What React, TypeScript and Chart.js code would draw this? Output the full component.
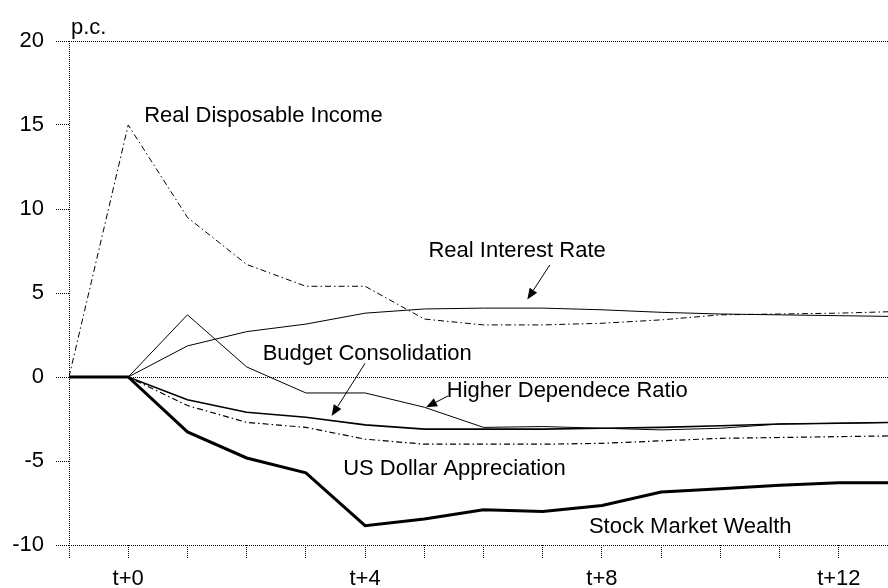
import React, { useEffect, useRef } from "react";
import { Chart, registerables } from "chart.js";

Chart.register(...registerables);

// Quarters relative to the shock: t-1 ... t+13
const periods = [-1, 0, 1, 2, 3, 4, 5, 6, 7, 8, 9, 10, 11, 12, 13];
const xLabelValues = [0, 4, 8, 12];
const xLabelTexts = ["t+0", "t+4", "t+8", "t+12"];
const yTickValues = [-10, -5, 0, 5, 10, 15, 20];

const realDisposableIncome = [0, 15, 9.5, 6.7, 5.4, 5.4, 3.45, 3.1, 3.1, 3.2, 3.4, 3.7, 3.75, 3.8, 3.9];
const realInterestRate = [0, 0, 1.85, 2.7, 3.15, 3.8, 4.05, 4.1, 4.1, 4.0, 3.85, 3.75, 3.7, 3.65, 3.6];
const higherDependenceRatio = [0, 0, 3.7, 0.6, -0.95, -0.95, -1.8, -3.0, -2.95, -3.05, -3.15, -3.05, -2.8, -2.75, -2.7];
const budgetConsolidation = [0, 0, -1.35, -2.1, -2.4, -2.85, -3.1, -3.1, -3.1, -3.05, -3.0, -2.9, -2.8, -2.75, -2.7];
const usDollarAppreciation = [0, 0, -1.7, -2.7, -3.0, -3.7, -4.0, -4.0, -4.0, -3.95, -3.8, -3.65, -3.6, -3.55, -3.5];
const stockMarketWealth = [0, 0, -3.27, -4.82, -5.7, -8.85, -8.45, -7.9, -8.0, -7.65, -6.85, -6.65, -6.45, -6.3, -6.3];

// Text labels placed in data coordinates (x = quarter, y = p.c.)
const labelTexts = [
  "Real Disposable Income",
  "Real Interest Rate",
  "Budget Consolidation",
  "Higher Dependece Ratio",
  "US Dollar Appreciation",
  "Stock Market Wealth",
];
const labelX = [0.27, 5.07, 2.27, 5.38, 3.63, 7.78];
const labelY = [15.2, 7.16, 1.01, -1.21, -5.81, -9.3];

// Arrows: from (x1,y1) to (x2,y2) in data coordinates
const arrowX1 = [7.12, 4.0, 5.4];
const arrowY1 = [6.67, 0.82, -1.13];
const arrowX2 = [6.74, 3.435, 5.03];
const arrowY2 = [4.62, -2.32, -1.8];

const FONT = '"Liberation Sans", Arial, sans-serif';

const pts = (vals: number[]) => periods.map((p, i) => ({ x: p, y: vals[i] }));

const annotationPlugin = {
  id: "annotations",
  afterDatasetsDraw(chart: any) {
    const { ctx, scales, chartArea } = chart;
    const xs = scales.x;
    const ys = scales.y;
    ctx.save();
    ctx.fillStyle = "#000";
    ctx.strokeStyle = "#000";
    ctx.font = `22px ${FONT}`;
    ctx.textBaseline = "alphabetic";
    ctx.textAlign = "left";
    labelTexts.forEach((t, i) => {
      ctx.fillText(t, xs.getPixelForValue(labelX[i]), ys.getPixelForValue(labelY[i]));
    });
    // unit label
    ctx.fillText("p.c.", chartArea.left + 2, chartArea.top - 7);

    ctx.lineWidth = 1;
    for (let i = 0; i < arrowX1.length; i++) {
      const x1 = xs.getPixelForValue(arrowX1[i]);
      const y1 = ys.getPixelForValue(arrowY1[i]);
      const x2 = xs.getPixelForValue(arrowX2[i]);
      const y2 = ys.getPixelForValue(arrowY2[i]);
      const ang = Math.atan2(y2 - y1, x2 - x1);
      const head = 11;
      const half = 4.5;
      const bx = x2 - head * Math.cos(ang);
      const by = y2 - head * Math.sin(ang);
      ctx.beginPath();
      ctx.moveTo(x1, y1);
      ctx.lineTo(bx, by);
      ctx.stroke();
      ctx.beginPath();
      ctx.moveTo(x2, y2);
      ctx.lineTo(bx + half * Math.sin(ang), by - half * Math.cos(ang));
      ctx.lineTo(bx - half * Math.sin(ang), by + half * Math.cos(ang));
      ctx.closePath();
      ctx.fill();
    }
    ctx.restore();
  },
};

export default function App() {
  const ref = useRef<HTMLCanvasElement | null>(null);

  useEffect(() => {
    document.body.style.margin = "0";
    document.body.style.overflow = "hidden";
    const canvas = ref.current;
    if (!canvas) return;
    const mk = (label: string, vals: number[], width: number, dash: number[]) => ({
      label,
      data: pts(vals),
      borderColor: "#000",
      backgroundColor: "#000",
      borderWidth: width,
      borderDash: dash,
      pointRadius: 0,
      tension: 0,
      fill: false,
    });
    const chart = new Chart(canvas, {
      type: "line",
      data: {
        datasets: [
          mk("Real Disposable Income", realDisposableIncome, 1, [6, 3, 1.5, 3]),
          mk("Real Interest Rate", realInterestRate, 1, []),
          mk("Higher Dependece Ratio", higherDependenceRatio, 1, []),
          mk("Budget Consolidation", budgetConsolidation, 1.6, []),
          mk("US Dollar Appreciation", usDollarAppreciation, 1.2, [6, 3, 1.5, 3]),
          mk("Stock Market Wealth", stockMarketWealth, 3, []),
        ],
      },
      options: {
        animation: false,
        responsive: false,
        devicePixelRatio: 1,
        layout: { padding: { top: 41, left: 0, right: 0, bottom: 0 } },
        plugins: {
          legend: { display: false },
          tooltip: { enabled: false },
          title: { display: false },
        },
        scales: {
          x: {
            type: "linear",
            min: -1,
            max: 12.83,
            afterBuildTicks: (scale: any) => {
              scale.ticks = periods.filter((p) => p <= 12).map((v) => ({ value: v }));
            },
            afterFit: (scale: any) => {
              scale.height = 43;
            },
            ticks: {
              autoSkip: false,
              maxRotation: 0,
              padding: 8,
              color: "#000",
              font: { family: FONT, size: 22 },
              callback: (v: any) => {
                const idx = xLabelValues.indexOf(Number(v));
                return idx >= 0 ? xLabelTexts[idx] : "";
              },
            },
            grid: {
              drawOnChartArea: true,
              color: (c: any) => (c.tick && c.tick.value === -1 ? "#000" : "rgba(0,0,0,0)"),
              tickColor: "#000",
              tickLength: 13,
              tickBorderDash: [1, 1],
              lineWidth: 1,
            },
            border: { display: false, dash: [1, 1] },
          },
          y: {
            type: "linear",
            min: -10,
            max: 20,
            afterBuildTicks: (scale: any) => {
              scale.ticks = yTickValues.map((v) => ({ value: v }));
            },
            afterFit: (scale: any) => {
              scale.width = 69;
            },
            ticks: {
              padding: 12,
              color: "#000",
              font: { family: FONT, size: 22 },
              callback: (v: any) => String(v),
            },
            grid: {
              drawOnChartArea: true,
              color: (c: any) =>
                c.tick && [20, 0, -10].includes(c.tick.value) ? "#000" : "rgba(0,0,0,0)",
              tickColor: "#000",
              tickLength: 13,
              tickBorderDash: [1, 1],
              lineWidth: 1,
            },
            border: { display: false, dash: [1, 1] },
          },
        },
      },
      plugins: [annotationPlugin],
    });
    return () => chart.destroy();
  }, []);

  return (
    <div style={{ width: 888, height: 588 }}>
      <canvas ref={ref} width={888} height={588} style={{ display: "block" }} />
    </div>
  );
}
